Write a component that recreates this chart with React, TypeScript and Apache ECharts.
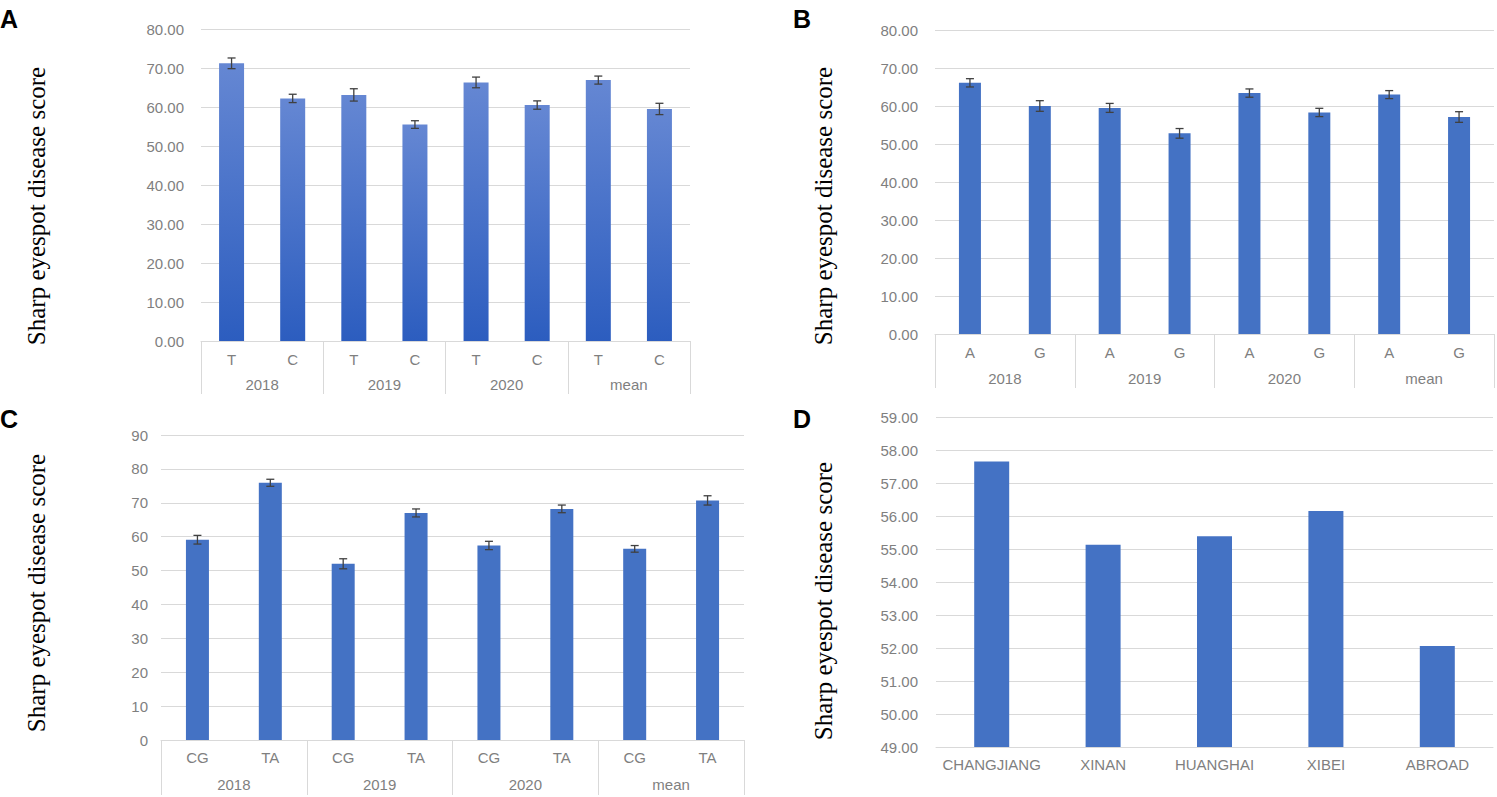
import React, { useEffect, useRef } from "react";
import * as echarts from "echarts";

// ---------- data ----------
const groupLabels = ["2018", "2019", "2020", "mean"];

const catsA = ["T", "C", "T", "C", "T", "C", "T", "C"];
const valuesA = [71.2, 62.2, 63.1, 55.5, 66.3, 60.5, 66.9, 59.5];
const errorsA = [1.37, 1.07, 1.58, 0.98, 1.37, 1.07, 1.03, 1.45];

const catsB = ["A", "G", "A", "G", "A", "G", "A", "G"];
const valuesB = [66.1, 60.0, 59.5, 52.8, 63.4, 58.3, 63.0, 57.1];
const errorsB = [1.09, 1.4, 1.18, 1.27, 1.09, 1.09, 1.05, 1.4];

const catsC = ["CG", "TA", "CG", "TA", "CG", "TA", "CG", "TA"];
const valuesC = [59.1, 75.9, 52.0, 67.0, 57.4, 68.2, 56.4, 70.7];
const errorsC = [1.28, 1.04, 1.48, 1.18, 1.23, 1.13, 0.98, 1.37];

const catsD = ["CHANGJIANG", "XINAN", "HUANGHAI", "XIBEI", "ABROAD"];
const valuesD = [57.65, 55.13, 55.39, 56.15, 52.06];

const yTitle = "Sharp eyespot disease score";

// ---------- styles ----------
const GRID_COLOR = "#d9d9d9";
const LABEL_COLOR = "#7f7f7f";
const BAR_COLOR = "#4472c4";
const SANS = "Liberation Sans";
const SERIF = "Liberation Serif";

const errSeries = (xi: number, yi: number, vals: number[], errs: number[]) => ({
  type: "custom",
  xAxisIndex: xi,
  yAxisIndex: yi,
  z: 10,
  silent: true,
  encode: { x: 0, y: [1, 2] },
  data: vals.map((v, i) => [i, v - errs[i], v + errs[i]]),
  renderItem: (params: any, api: any) => {
    const idx = api.value(0);
    const lo = api.coord([idx, api.value(1)]);
    const hi = api.coord([idx, api.value(2)]);
    const w = 4;
    const st = { stroke: "#404040", lineWidth: 1.3 };
    return {
      type: "group",
      children: [
        { type: "line", shape: { x1: lo[0], y1: lo[1], x2: hi[0], y2: hi[1] }, style: st },
        { type: "line", shape: { x1: hi[0] - w, y1: hi[1], x2: hi[0] + w, y2: hi[1] }, style: st },
        { type: "line", shape: { x1: lo[0] - w, y1: lo[1], x2: lo[0] + w, y2: lo[1] }, style: st },
      ],
    };
  },
});

const subAxis = (gi: number, cats: string[], margin: number) => ({
  type: "category",
  gridIndex: gi,
  data: cats,
  position: "bottom",
  axisLine: { show: true, lineStyle: { color: GRID_COLOR, width: 1 } },
  axisTick: { show: false },
  axisLabel: { interval: 0, color: LABEL_COLOR, fontSize: 15, fontFamily: SANS, margin },
});

const groupAxis = (gi: number, margin: number, tickLen: number) => ({
  type: "category",
  gridIndex: gi,
  data: groupLabels,
  position: "bottom",
  offset: 0,
  axisLine: { show: false },
  axisTick: { show: true, interval: 0, length: tickLen, lineStyle: { color: GRID_COLOR, width: 1 } },
  axisLabel: { interval: 0, color: LABEL_COLOR, fontSize: 15, fontFamily: SANS, margin },
});

const valAxis = (gi: number, min: number, max: number, interval: number, decimals: number, margin: number) => ({
  type: "value",
  gridIndex: gi,
  min,
  max,
  interval,
  axisLine: { show: false },
  axisTick: { show: false },
  splitLine: { show: true, lineStyle: { color: GRID_COLOR, width: 1 } },
  axisLabel: {
    color: LABEL_COLOR,
    fontSize: 15,
    fontFamily: SANS,
    margin,
    formatter: (v: number) => v.toFixed(decimals),
  },
});

const letter = (t: string, x: number, y: number) => ({
  type: "text",
  x,
  y,
  style: { text: t, fontSize: 25, fontWeight: "bold", fontFamily: SANS, fill: "#000", textAlign: "left", textVerticalAlign: "top" },
});

const title = (x: number, y: number) => ({
  type: "text",
  x,
  y,
  rotation: Math.PI / 2,
  style: { text: yTitle, fontSize: 25, fontFamily: SERIF, fill: "#000", textAlign: "center", textVerticalAlign: "middle" },
});

export default function App() {
  const ref = useRef<HTMLDivElement>(null);

  useEffect(() => {
    if (!ref.current) return;
    const chart = echarts.init(ref.current, undefined, { renderer: "svg" });

    const gradient = new echarts.graphic.LinearGradient(0, 0, 0, 1, [
      { offset: 0, color: "#6587d3" },
      { offset: 1, color: "#2c5dbf" },
    ]);

    const option: any = {
      animation: false,
      backgroundColor: "#ffffff",
      grid: [
        { left: 201, top: 29, width: 489, height: 312 },
        { left: 935, top: 30, width: 559, height: 304 },
        { left: 161, top: 435, width: 583, height: 305 },
        { left: 936, top: 417, width: 557, height: 330 },
      ],
      xAxis: [
        subAxis(0, catsA, 11),
        groupAxis(0, 36, 53),
        subAxis(1, catsB, 11),
        groupAxis(1, 37, 54),
        subAxis(2, catsC, 10),
        groupAxis(2, 37, 55),
        subAxis(3, catsD, 10),
      ],
      yAxis: [
        valAxis(0, 0, 80, 10, 2, 17),
        valAxis(1, 0, 80, 10, 2, 17),
        valAxis(2, 0, 90, 10, 0, 13),
        valAxis(3, 49, 59, 1, 2, 18),
      ],
      series: [
        { type: "bar", xAxisIndex: 0, yAxisIndex: 0, data: valuesA, barWidth: 25, itemStyle: { color: gradient } },
        errSeries(0, 0, valuesA, errorsA),
        { type: "bar", xAxisIndex: 2, yAxisIndex: 1, data: valuesB, barWidth: 22, itemStyle: { color: BAR_COLOR } },
        errSeries(2, 1, valuesB, errorsB),
        { type: "bar", xAxisIndex: 4, yAxisIndex: 2, data: valuesC, barWidth: 23, itemStyle: { color: BAR_COLOR } },
        errSeries(4, 2, valuesC, errorsC),
        { type: "bar", xAxisIndex: 6, yAxisIndex: 3, data: valuesD, barWidth: 35, itemStyle: { color: BAR_COLOR } },
      ],
      graphic: [
        letter("A", 0, 6),
        letter("B", 793, 6),
        letter("C", 0, 406),
        letter("D", 793, 406),
        title(36, 206),
        title(823, 206),
        title(36, 593),
        title(823, 601),
      ],
    };

    chart.setOption(option);
    return () => chart.dispose();
  }, []);

  return (
    <div
      ref={ref}
      style={{ position: "absolute", left: 0, top: 0, width: 1497, height: 797, background: "#fff" }}
    />
  );
}
